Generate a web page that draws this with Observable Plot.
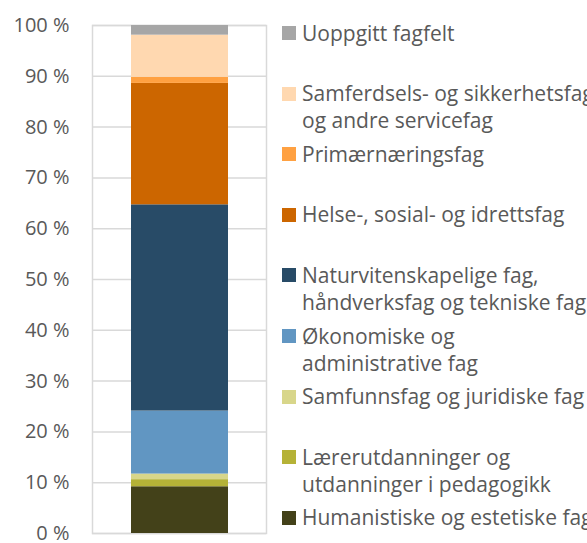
<!DOCTYPE html>
<html>
<head>
<meta charset="utf-8">
<script src="https://cdn.jsdelivr.net/npm/d3@7"></script>
<script src="https://cdn.jsdelivr.net/npm/@observablehq/plot@0.6"></script>
<style>
  html, body { margin: 0; padding: 0; background: #fff; overflow: hidden; }
  #wrap { position: relative; width: 587px; height: 543px; overflow: hidden; font-family: "Open Sans", sans-serif; }
  .item { position: absolute; left: 282px; white-space: nowrap; color: #595959; font-size: 21px; line-height: 27px; }
  .sw { position: absolute; left: 0; top: 6.5px; width: 14px; height: 14px; }
  .lbl { position: absolute; left: 20px; top: 0; }
</style>
</head>
<body>
<div id="wrap"></div>
<script>
// Stack order: bottom to top
const categories = [
  "Humanistiske og estetiske fag",
  "Lærerutdanninger og utdanninger i pedagogikk",
  "Samfunnsfag og juridiske fag",
  "Økonomiske og administrative fag",
  "Naturvitenskapelige fag, håndverksfag og tekniske fag",
  "Helse-, sosial- og idrettsfag",
  "Primærnæringsfag",
  "Samferdsels- og sikkerhetsfag og andre servicefag",
  "Uoppgitt fagfelt"
];
const legendLines = [
  ["Humanistiske og estetiske fag"],
  ["Lærerutdanninger og", "utdanninger i pedagogikk"],
  ["Samfunnsfag og juridiske fag"],
  ["Økonomiske og", "administrative fag"],
  ["Naturvitenskapelige fag,", "håndverksfag og tekniske fag"],
  ["Helse-, sosial- og idrettsfag"],
  ["Primærnæringsfag"],
  ["Samferdsels- og sikkerhetsfag", "og andre servicefag"],
  ["Uoppgitt fagfelt"]
];
const values = [9.2, 1.4, 1.1, 12.4, 40.6, 23.9, 1.2, 8.3, 1.9];
const colors = ["#434119", "#B5B237", "#D8D68A", "#6196C2", "#284B67", "#CC6600", "#FFA142", "#FFD8B0", "#A6A6A6"];
const yTicks = [0, 10, 20, 30, 40, 50, 60, 70, 80, 90, 100];

const data = categories.map((c, i) => ({group: "A", category: c, value: values[i]}));

const chart = Plot.plot({
  width: 587,
  height: 543,
  marginLeft: 92,
  marginRight: 321,
  marginTop: 25,
  marginBottom: 10,
  style: {fontFamily: "'Open Sans', sans-serif", fontSize: "20px", color: "#595959", background: "#fff", overflow: "visible"},
  x: {type: "band", domain: ["A"], padding: 0.284, axis: null},
  y: {domain: [0, 100], ticks: yTicks, tickSize: 0, tickPadding: 23, tickFormat: d => d + " %", label: null},
  color: {domain: categories, range: colors},
  marks: [
    Plot.ruleY(yTicks, {stroke: "#D9D9D9", strokeWidth: 1.5}),
    Plot.frame({stroke: "#D9D9D9", strokeWidth: 1.5}),
    Plot.barY(data, {x: "group", y: "value", fill: "category"}),
    Plot.axisY({ticks: yTicks, tickSize: 0, tickPadding: 23, tickFormat: d => d + " %", fill: "#595959", fontSize: 20, label: null})
  ]
});

const wrap = document.getElementById("wrap");
wrap.appendChild(chart);

// Legend: top-to-bottom order (reverse of stack)
const n = categories.length;
for (let k = 0; k < n; k++) {
  const i = n - 1 - k;
  const item = document.createElement("div");
  item.className = "item";
  item.style.top = (33 + k * 60.6 - 13.5) + "px";
  const sw = document.createElement("div");
  sw.className = "sw";
  sw.style.background = colors[i];
  item.appendChild(sw);
  const lbl = document.createElement("div");
  lbl.className = "lbl";
  lbl.innerHTML = legendLines[i].map(s => s.replace(/&/g, "&amp;")).join("<br>");
  item.appendChild(lbl);
  wrap.appendChild(item);
}
</script>
</body>
</html>
